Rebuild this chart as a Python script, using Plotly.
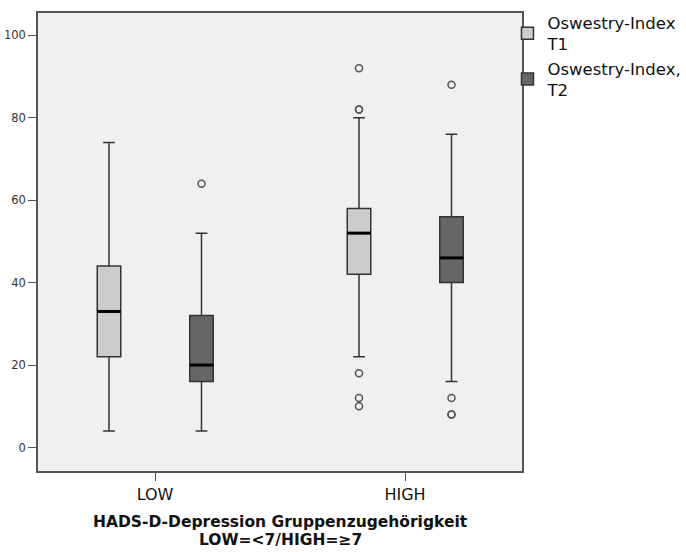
import plotly.graph_objects as go

categories = ["LOW", "HIGH"]
series_names = ["Oswestry-Index<br>T1", "Oswestry-Index,<br>T2"]
fills = ["#cccccc", "#666666"]

# precomputed box statistics per series, per category
q1 = [[22, 42], [16, 40]]
median = [[33, 52], [20, 46]]
q3 = [[44, 58], [32, 56]]
lowerfence = [[4, 22], [4, 16]]
upperfence = [[74, 80], [52, 76]]
outliers = [
    [[], [92, 82, 82, 18, 12, 10]],
    [[64], [88, 12, 8, 8]],
]

offsets = [-0.184, 0.186]
box_w = 0.094

fig = go.Figure()
for s in range(2):
    xs = [i + offsets[s] for i in range(len(categories))]
    fig.add_trace(go.Box(
        x=xs, q1=q1[s], median=median[s], q3=q3[s],
        lowerfence=lowerfence[s], upperfence=upperfence[s],
        width=box_w, whiskerwidth=0.5,
        fillcolor=fills[s], line=dict(color="#333333", width=1.5),
        name=series_names[s], boxpoints=False, hoverinfo="skip",
    ))
for s in range(2):
    for i in range(len(categories)):
        xc = i + offsets[s]
        fig.add_trace(go.Scatter(
            x=[xc - box_w / 2, xc + box_w / 2], y=[median[s][i], median[s][i]],
            mode="lines", line=dict(color="black", width=3),
            showlegend=False, hoverinfo="skip",
        ))
        if outliers[s][i]:
            fig.add_trace(go.Scatter(
                x=[xc] * len(outliers[s][i]), y=outliers[s][i],
                mode="markers",
                marker=dict(symbol="circle-open", size=7, color="#555555", line=dict(width=1.5)),
                showlegend=False, hoverinfo="skip",
            ))

fig.update_layout(
    width=686, height=552,
    margin=dict(l=38, r=164, t=13, b=81, autoexpand=False),
    paper_bgcolor="white", plot_bgcolor="#f0f0f0",
    font=dict(family="DejaVu Sans", color="#222222"),
    boxmode="overlay",
    showlegend=True,
    legend=dict(x=0.97, y=1.017, xanchor="left", yanchor="top",
                font=dict(size=16.5, color="#111111"), bgcolor="rgba(0,0,0,0)",
                tracegroupgap=0),
    xaxis=dict(range=[-0.468, 1.468], tickmode="array",
               tickvals=list(range(len(categories))), ticktext=categories,
               ticks="outside", ticklen=8, tickcolor="#555555",
               showline=True, linecolor="#555555", linewidth=1.5, mirror=True,
               showgrid=False, zeroline=False, tickfont=dict(size=16, color="#111111")),
    yaxis=dict(range=[-5.7, 105.4], tickvals=[0, 20, 40, 60, 80, 100],
               ticks="outside", ticklen=8, tickcolor="#555555",
               showline=True, linecolor="#555555", linewidth=1.5, mirror=True,
               showgrid=False, zeroline=False, tickfont=dict(size=11.5, color="#333333")),
    annotations=[
        dict(text="<b>HADS-D-Depression Gruppenzugehörigkeit</b>", x=0.5, y=522, xref="paper",
             yref="paper", showarrow=False, font=dict(size=15.5, color="#111111")),
        dict(text="<b>LOW=&lt;7/HIGH=≥7</b>", x=0.5, y=539.5, xref="paper",
             yref="paper", showarrow=False, font=dict(size=15.5, color="#111111")),
    ],
)
# convert pixel rows to paper coordinates for the annotations
plot_h = 552 - 13 - 81
for a in fig.layout.annotations:
    a.y = (552 - 81 - a.y) / plot_h
    a.yanchor = "middle"

fig.write_html("out.html")
